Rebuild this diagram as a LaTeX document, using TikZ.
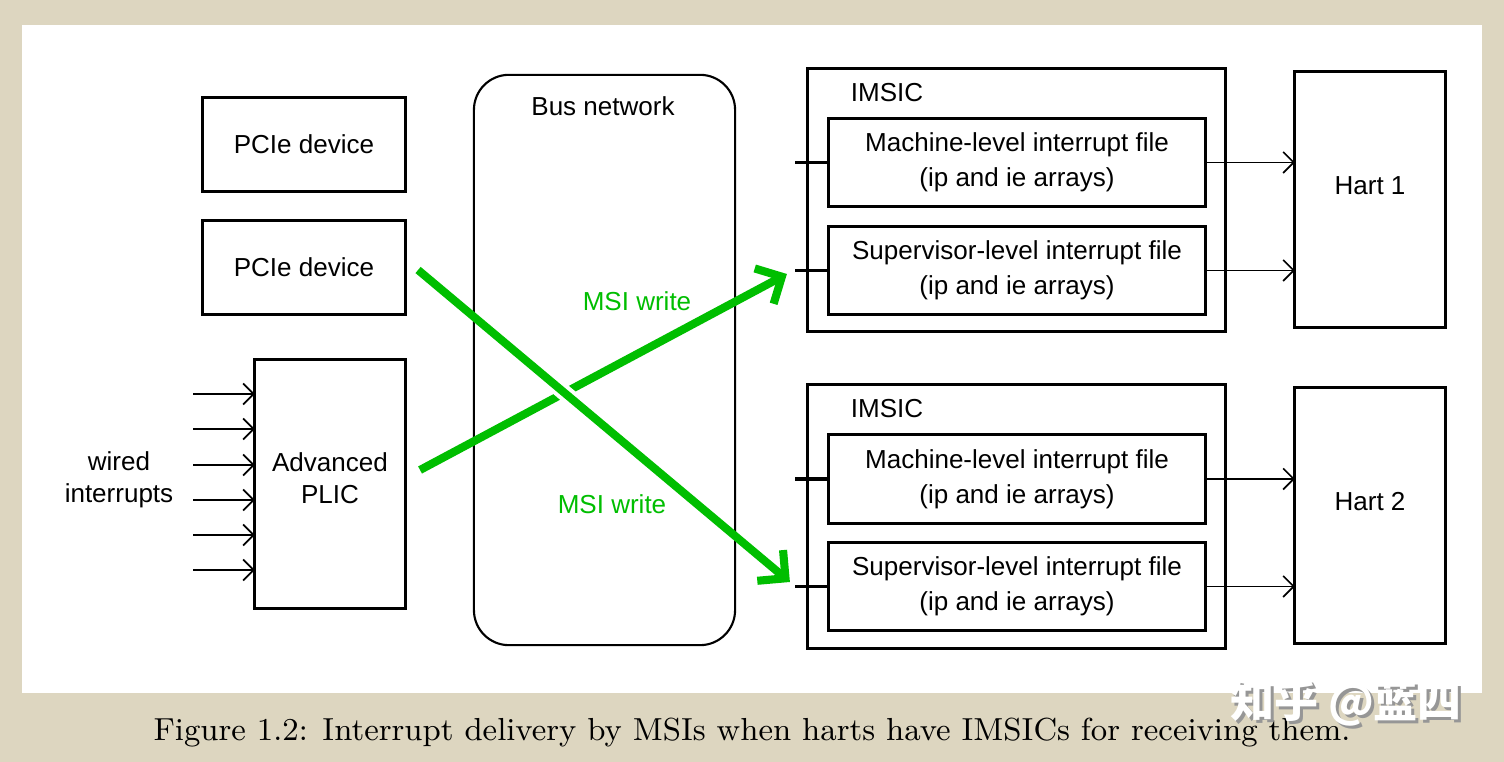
\documentclass[tikz,border=0pt]{standalone}
\usepackage{fontspec}
\newfontfamily\diagfont{Liberation Sans}
\newfontfamily\cjkfont{Noto Sans CJK SC}
\usetikzlibrary{arrows.meta, positioning, calc}
\definecolor{paper}{RGB}{221,214,192}
\definecolor{msigreen}{RGB}{0,190,0}
\definecolor{shadowgray}{RGB}{150,150,150}

\begin{document}
\begin{tikzpicture}[
        x=0.01cm, y=-0.01cm,
        every node/.style={font=\diagfont\fontsize{7.4}{9}\selectfont},
        block/.style={draw, line width=0.85pt, inner sep=0pt, outer sep=0pt, align=center},
        intfile/.style={block, minimum width=3.76cm, minimum height=0.88cm, font=\diagfont\fontsize{7.4}{10}\selectfont},
        hart/.style={block, minimum width=1.5cm, minimum height=2.55cm, text depth=8pt},
        bus/.style={draw, line width=0.6pt, rounded corners=0.35cm, minimum width=2.61cm, minimum height=5.7cm},
        boxtitle/.style={inner sep=0pt},
        wire/.style={-{Straight Barb[length=3pt, width=6pt]}, line width=0.5pt},
        port/.style={line width=1.1pt},
        msi/.style={-{Straight Barb[length=5.7pt, width=11.4pt]}, line width=2.3pt, msigreen},
        gap/.style={line width=4.6pt, white}
    ]
        % Page and panel
        \useasboundingbox (0, 0) rectangle (1504, 762);
        \fill[paper] (0, 0) rectangle (1504, 762);
        \fill[white] (22, 25) rectangle (1482, 693);

        % Devices
        \node[block, minimum width=2.02cm, minimum height=0.93cm] (pcieA) at (304, 144.5) {PCIe device};
        \node[block, minimum width=2.02cm, minimum height=0.93cm] (pcieB) at (304, 267.5) {PCIe device};
        \node[block, minimum width=1.5cm, minimum height=2.48cm, text depth=3.4pt] (plic) at (330, 484) {Advanced\\PLIC};

        % Wired interrupts
        \node[align=center] (wired) at (119, 480) {wired\\interrupts};
        \foreach \i/\y in {1/394, 2/429, 3/465, 4/500, 5/535, 6/570} {
            \coordinate (wire\i) at (193, \y);
            \draw[wire] (wire\i) -- (wire\i -| plic.west);
        }

        % Bus network
        \node[bus] (bus) at (604.5, 360) {};
        \node[boxtitle] (bustitle) at (603, 106) {Bus network};

        % IMSIC and hart 1
        \node[block, minimum width=4.17cm, minimum height=2.62cm] (imsicA) at (1016.5, 200) {};
        \node[boxtitle] (imsicAtitle) at (887, 93) {IMSIC};
        \node[intfile] (mfileA) at (1017, 162.5) {Machine-level interrupt file\\(ip and ie arrays)};
        \node[intfile] (sfileA) at (1017, 270.5) {Supervisor-level interrupt file\\(ip and ie arrays)};
        \node[hart] (hartA) at (1370, 199.5) {Hart 1};

        % IMSIC and hart 2
        \node[block, minimum width=4.17cm, minimum height=2.63cm] (imsicB) at (1016.5, 516.5) {};
        \node[boxtitle] (imsicBtitle) at (887, 409) {IMSIC};
        \node[intfile] (mfileB) at (1017, 479) {Machine-level interrupt file\\(ip and ie arrays)};
        \node[intfile] (sfileB) at (1017, 586.5) {Supervisor-level interrupt file\\(ip and ie arrays)};
        \node[hart] (hartB) at (1370, 515.5) {Hart 2};

        % Ports and outputs
        \foreach \f in {mfileA, sfileA, mfileB, sfileB}
            \draw[port] (\f.west) -- ++(-34, 0);
        \draw[wire] (mfileA.east) -- (mfileA.east -| hartA.west);
        \draw[wire] (sfileA.east) -- (sfileA.east -| hartA.west);
        \draw[wire] (mfileB.east) -- (mfileB.east -| hartB.west);
        \draw[wire] (sfileB.east) -- (sfileB.east -| hartB.west);

        % MSI writes
        \coordinate (msiAfrom) at ($(pcieB.east)+(13, 2.5)$);
        \coordinate (msiAto) at ($(sfileB.west)+(-39, -4.5)$);
        \coordinate (msiBfrom) at ($(plic.east)+(15, -14)$);
        \coordinate (msiBto) at ($(sfileA.west)+(-42, 3.5)$);
        \draw[msi] (msiBfrom) -- (msiBto);
        \path (msiAfrom) -- (msiAto) coordinate[pos=0.36] (gapA) coordinate[pos=0.43] (gapB);
        \draw[gap] (gapA) -- (gapB);
        \draw[msi] (msiAfrom) -- (msiAto);
        \node[text=msigreen] (msiAlabel) at (612, 504) {MSI write};
        \node[text=msigreen] (msiBlabel) at (637, 301) {MSI write};

        % Caption
        \node[font=\fontsize{9.06}{12}\selectfont] (caption) at (752, 733) {Figure 1.2: Interrupt delivery by MSIs when harts have IMSICs for receiving them.};

        % Watermark
        \node[font=\cjkfont\bfseries\fontsize{12.5}{14}\selectfont, text=shadowgray] (markshadow) at (1349, 706) {知乎 @蓝四};
        \node[font=\cjkfont\bfseries\fontsize{12.5}{14}\selectfont, text=white] (mark) at (1346, 703) {知乎 @蓝四};
    \end{tikzpicture}
\end{document}
